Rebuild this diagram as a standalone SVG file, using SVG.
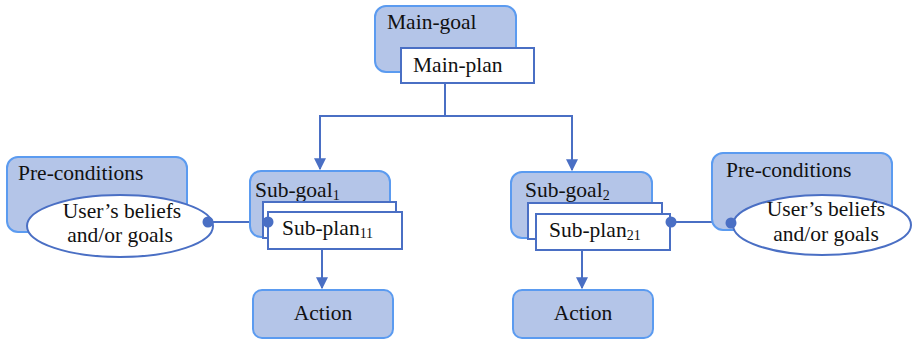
<svg xmlns="http://www.w3.org/2000/svg" width="912" height="340" viewBox="0 0 912 340">
<defs>
<style>
.goal{fill:#b4c5e8;stroke:#5b9bf0;stroke-width:2}
.plan{fill:#ffffff;stroke:#4a6fc4;stroke-width:2}
.ell{fill:#ffffff;stroke:#4a6fc4;stroke-width:2}
.t{font-family:'Liberation Serif','DejaVu Serif',serif;font-size:21.5px;fill:#111}
.sub{font-size:14px}
.c{text-anchor:middle}
.ln{fill:none;stroke:#4a6fc4;stroke-width:2}
.dot{fill:#4a6fc4}
</style>
<marker id="ah" viewBox="0 0 10 10" refX="9" refY="5" markerWidth="6" markerHeight="6" orient="auto" markerUnits="strokeWidth">
<path d="M0,0 L10,5 L0,10 z" fill="#4a6fc4"/>
</marker>
</defs>
<g id="connectors">
<path class="ln" d="M445,83 V116 H320 V169" marker-end="url(#ah)"/>
<path class="ln" d="M445,116 H572 V170" marker-end="url(#ah)"/>
<path class="ln" d="M322,249 V288" marker-end="url(#ah)"/>
<path class="ln" d="M582,250 V288" marker-end="url(#ah)"/>
<path class="ln" d="M208,222 H268"/>
<path class="ln" d="M671,222 H731"/>
</g>
<g id="main-goal">
<rect class="goal" x="375" y="6" width="141" height="66" rx="11"/>
<text class="t" x="387" y="29" font-family="Liberation Serif, serif">Main-goal</text>
</g>
<g id="main-plan">
<rect class="plan" x="401" y="48" width="133" height="35"/>
<text class="t" x="413" y="72" font-family="Liberation Serif, serif">Main-plan</text>
</g>
<g id="pre-left">
<rect class="goal" x="7" y="157" width="180" height="75" rx="11"/>
<text class="t" x="18" y="180" font-family="Liberation Serif, serif">Pre-conditions</text>
</g>
<g id="beliefs-left">
<ellipse class="ell" cx="120" cy="226" rx="93" ry="31"/>
<text class="t c" x="122" y="218" font-family="Liberation Serif, serif">User’s beliefs</text>
<text class="t c" x="120" y="242" font-family="Liberation Serif, serif">and/or goals</text>
<circle class="dot" cx="208" cy="222" r="5.5"/>
</g>
<g id="sub-goal-1">
<rect class="goal" x="250" y="171" width="140" height="66" rx="11"/>
<text class="t" x="255" y="197" font-family="Liberation Serif, serif">Sub-goal<tspan class="sub" dy="3">1</tspan></text>
</g>
<g id="sub-plan-11">
<rect class="plan" x="263" y="202" width="133" height="36"/>
<rect class="plan" x="268" y="212" width="134" height="37"/>
<text class="t" x="282" y="235" font-family="Liberation Serif, serif">Sub-plan<tspan class="sub" dy="3">11</tspan></text>
<circle class="dot" cx="268" cy="222" r="5.5"/>
</g>
<g id="action-1">
<rect class="goal" x="253" y="290" width="140" height="48" rx="9"/>
<text class="t c" x="323" y="320" font-family="Liberation Serif, serif">Action</text>
</g>
<g id="sub-goal-2">
<rect class="goal" x="511" y="172" width="141" height="66" rx="11"/>
<text class="t" x="525" y="197" font-family="Liberation Serif, serif">Sub-goal<tspan class="sub" dy="3">2</tspan></text>
</g>
<g id="sub-plan-21">
<rect class="plan" x="528" y="203" width="134" height="36"/>
<rect class="plan" x="536" y="214" width="134" height="36"/>
<text class="t" x="549" y="237" font-family="Liberation Serif, serif">Sub-plan<tspan class="sub" dy="3">21</tspan></text>
<circle class="dot" cx="671" cy="222" r="5.5"/>
</g>
<g id="action-2">
<rect class="goal" x="513" y="290" width="140" height="48" rx="9"/>
<text class="t c" x="583" y="320" font-family="Liberation Serif, serif">Action</text>
</g>
<g id="pre-right">
<rect class="goal" x="712" y="153" width="180" height="77" rx="11"/>
<text class="t" x="726" y="177" font-family="Liberation Serif, serif">Pre-conditions</text>
</g>
<g id="beliefs-right">
<ellipse class="ell" cx="822" cy="225" rx="89" ry="30"/>
<text class="t c" x="826" y="216" font-family="Liberation Serif, serif">User’s beliefs</text>
<text class="t c" x="826" y="241" font-family="Liberation Serif, serif">and/or goals</text>
<circle class="dot" cx="731" cy="223" r="5.5"/>
</g>
</svg>
